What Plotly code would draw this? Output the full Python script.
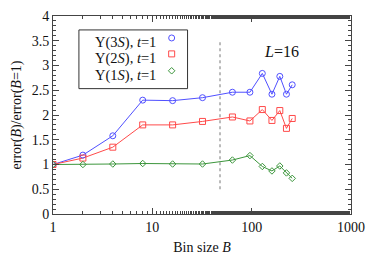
import plotly.graph_objects as go

bins = [1, 2, 4, 8, 16, 32, 64, 96, 128, 160, 192, 224, 256]
ups3 = [1.00, 1.19, 1.58, 2.30, 2.29, 2.35, 2.46, 2.46, 2.84, 2.42, 2.78, 2.42, 2.61]
ups2 = [1.00, 1.13, 1.35, 1.80, 1.80, 1.87, 1.96, 1.88, 2.11, 1.89, 2.09, 1.73, 1.93]
ups1 = [1.00, 1.00, 1.01, 1.02, 1.01, 1.01, 1.09, 1.18, 0.96, 0.87, 0.97, 0.83, 0.72]
labels = ["Υ(3<i>S</i>), <i>t</i>=1", "Υ(2<i>S</i>), <i>t</i>=1", "Υ(1<i>S</i>), <i>t</i>=1"]
cut_x = [48, 48]
cut_y = [0.5, 3.5]
xticks = [1, 10, 100, 1000]
yticks = [0, 0.5, 1, 1.5, 2, 2.5, 3, 3.5, 4]
ytick_text = ["0", "0.5", "1", "1.5", "2", "2.5", "3", "3.5", "4"]

FONT = "Liberation Serif"
series = [
    (ups3, "#5050ff", "circle-open", 6),
    (ups2, "#ff4a4a", "square-open", 6),
    (ups1, "#3c963c", "diamond-open", 5),
]
legend_ids = ["legend", "legend2", "legend3"]
row_px = [42, 58, 75]

def py(px):
    return (214 - px) / 199

fig = go.Figure()
fig.add_trace(go.Scatter(x=cut_x, y=cut_y, mode="lines",
                         line=dict(color="#777777", width=1, dash="dot"),
                         showlegend=False, hoverinfo="skip"))
for vals, col, sym, sz in series:
    fig.add_trace(go.Scatter(x=bins, y=vals, mode="lines",
                             line=dict(color=col, width=1),
                             showlegend=False))
for (vals, col, sym, sz), lid in zip(series, legend_ids):
    fig.add_trace(go.Scatter(x=bins, y=vals, mode="markers", name=" ",
                             marker=dict(symbol=sym, size=sz, color=col,
                                         line=dict(width=1, color=col)),
                             showlegend=True, legend=lid))

# legend texts and box
for lab, rp in zip(labels, row_px):
    fig.add_annotation(x=(93 - 53) / 299, y=py(rp), xref="paper", yref="paper", text=lab,
                       showarrow=False, xanchor="left", yanchor="middle",
                       font=dict(family=FONT, size=14.5, color="#111111"))
fig.add_shape(type="rect", xref="paper", yref="paper",
              x0=(79 - 53) / 299, x1=(188 - 53) / 299,
              y0=py(88), y1=py(29),
              line=dict(color="#333333", width=1), fillcolor="rgba(0,0,0,0)")
fig.add_annotation(x=(302 - 53) / 299, y=py(40), xref="paper", yref="paper",
                   text="<i>L</i>=16", showarrow=False,
                   font=dict(family=FONT, size=16, color="#111111"))

axis_common = dict(showline=True, linecolor="#444444", linewidth=1, mirror="ticks",
                   ticks="inside", ticklen=6, tickcolor="#444444", showgrid=False,
                   zeroline=False,
                   tickfont=dict(family=FONT, size=14, color="#111111"))
fig.update_xaxes(type="log", range=[0, 3], tickvals=xticks,
                 ticktext=[str(t) for t in xticks],
                 minor=dict(ticks="inside", ticklen=3, tickcolor="#444444", showgrid=False),
                 title=dict(text="Bin size <i>B</i>", font=dict(family=FONT, size=14, color="#111111"),
                            standoff=8),
                 **axis_common)
fig.update_yaxes(range=[0, 4], tickvals=yticks, ticktext=ytick_text,
                 minor=dict(ticks="inside", ticklen=3, dtick=0.1, tickcolor="#444444", showgrid=False),
                 title=dict(text="error(<i>B</i>)/error(<i>B</i>=1)",
                            font=dict(family=FONT, size=14, color="#111111"), standoff=6),
                 **axis_common)
legend_common = dict(xanchor="left", yanchor="top", bgcolor="rgba(0,0,0,0)", borderwidth=0,
                     font=dict(family=FONT, size=10), itemwidth=30)
fig.update_layout(
    width=374, height=262,
    margin=dict(l=53, r=22, t=9, b=48),
    plot_bgcolor="white", paper_bgcolor="white",
    legend=dict(x=(172 - 20 - 53) / 299, y=py(row_px[0] - 19.5), **legend_common),
    legend2=dict(x=(172 - 20 - 53) / 299, y=py(row_px[1] - 19.5), **legend_common),
    legend3=dict(x=(172 - 20 - 53) / 299, y=py(row_px[2] - 19.5), **legend_common),
)
fig.write_html("out.html", config={"displayModeBar": False},
               post_script="document.body.style.margin='0';document.body.style.overflow='hidden';")
